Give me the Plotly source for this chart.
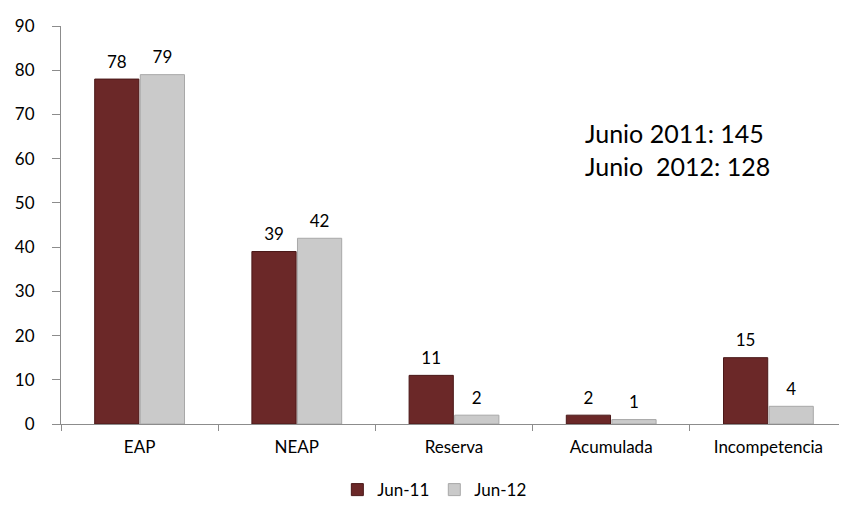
import plotly.graph_objects as go

categories = ["EAP", "NEAP", "Reserva", "Acumulada", "Incompetencia"]
jun11 = [78, 39, 11, 2, 15]
jun12 = [79, 42, 2, 1, 4]
series_names = ["Jun-11", "Jun-12"]
note_lines = ["Junio 2011: 145", "Junio  2012: 128"]

FONT = "Lato, Open Sans, sans-serif"
BAR_COLORS = ["#6B2828", "#CACACA"]
EDGE_COLORS = ["#4A1818", "#A8A8A8"]

fig = go.Figure()
for name, vals, col, edge in zip(series_names, [jun11, jun12], BAR_COLORS, EDGE_COLORS):
    fig.add_trace(go.Bar(
        name=name,
        x=categories,
        y=vals,
        marker=dict(color=col, line=dict(color=edge, width=1)),
    ))

# value labels as grouped text markers, so they sit a bit above each bar
for name, vals in zip(series_names, [jun11, jun12]):
    fig.add_trace(go.Scatter(
        x=categories,
        y=vals,
        mode="markers+text",
        text=vals,
        textposition="top center",
        textfont=dict(size=17, color="#000000"),
        marker=dict(size=10, opacity=0),
        showlegend=False,
        hoverinfo="skip",
        cliponaxis=False,
        name=name + " labels"
    ))

fig.add_annotation(
    text="<br>".join(note_lines),
    xref="paper", yref="paper",
    x=0.664, y=0.69,
    xanchor="left", yanchor="middle",
    align="left",
    showarrow=False,
    font=dict(size=25, color="#000000", family=FONT)
)

# the page body has an 8px margin, so the margins are shifted to compensate
fig.update_layout(
    width=847,
    height=510,
    barmode="group",
    bargap=0.42,
    bargroupgap=0.03,
    scattermode="group",
    scattergap=0.42,
    plot_bgcolor="white",
    paper_bgcolor="white",
    font=dict(family=FONT, size=17, color="#000000"),
    margin=dict(l=53, r=8, t=18, b=94),
    showlegend=True,
    legend=dict(
        orientation="h",
        x=0.475, y=-0.166,
        xanchor="center", yanchor="middle",
        font=dict(size=17),
        itemwidth=30
    ),
    xaxis=dict(
        showline=True,
        linecolor="#8C8C8C",
        ticks="outside",
        tickson="boundaries",
        ticklen=6,
        tickcolor="#8C8C8C",
        ticklabelstandoff=8,
        showgrid=False
    ),
    yaxis=dict(
        range=[0, 90],
        dtick=10,
        showline=True,
        linecolor="#8C8C8C",
        ticks="outside",
        ticklen=8,
        tickcolor="#8C8C8C",
        ticklabelstandoff=14,
        showgrid=False,
        zeroline=False
    )
)

fig.write_html("out.html")
